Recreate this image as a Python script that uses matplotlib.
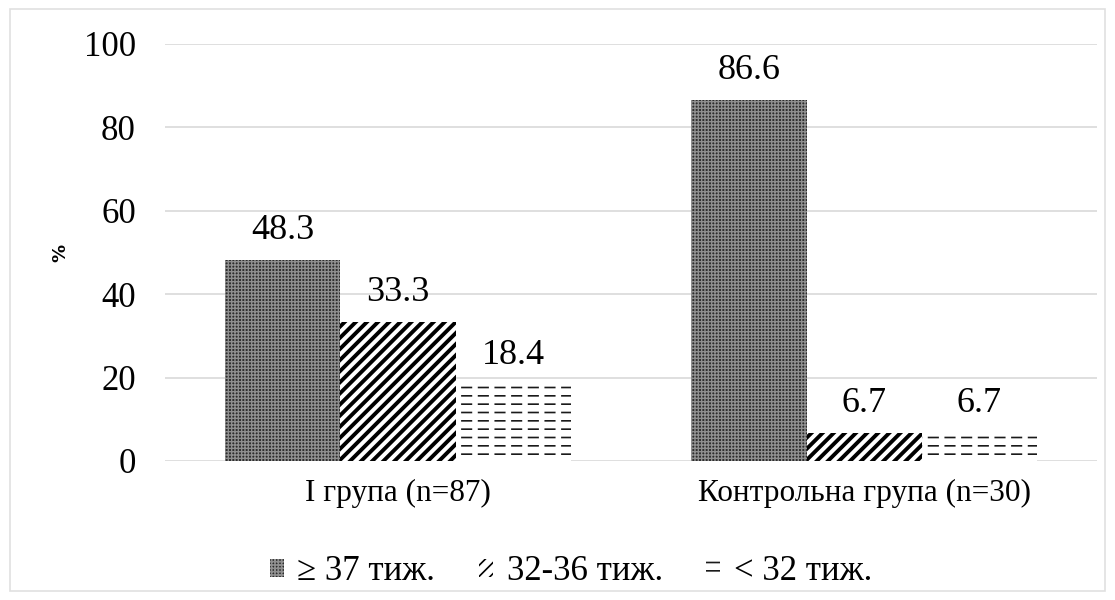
import matplotlib
matplotlib.use("Agg")
import matplotlib.pyplot as plt
import numpy as np

categories = ["I група (n=87)", "Контрольна група (n=30)"]
series_names = ["≥ 37 тиж.", "32-36 тиж.", "< 32 тиж."]
values_ge37 = [48.3, 86.6]
values_32_36 = [33.3, 6.7]
values_lt32 = [18.4, 6.7]
yticks = [0, 20, 40, 60, 80, 100]

plt.rcParams['font.family'] = ['Liberation Serif', 'DejaVu Serif']
plt.rcParams['hatch.linewidth'] = 1.2


def set_hlw(patches, lw):
    for p in patches:
        try:
            p.set_hatch_linewidth(lw)
        except Exception:
            pass


fig = plt.figure(figsize=(11.15, 6.0), dpi=100)
ax = fig.add_axes([0.148, 0.2317, 0.836, 0.695])

x = np.arange(len(categories))
w = 0.247
series = [values_ge37, values_32_36, values_lt32]
styles = [
    dict(facecolor='#2c2c2c', hatch='+++++', edgecolor='#8f8f8f'),
    dict(facecolor='white', hatch='///', edgecolor='black'),
    dict(facecolor='white', hatch='--', edgecolor='#1a1a1a'),
]
hlws = [1.0, 2.8, 1.2]
handles = []
for i, (vals, st) in enumerate(zip(series, styles)):
    bars = ax.bar(x + (i - 1) * w, vals, width=w, linewidth=0, label=series_names[i], **st)
    set_hlw(bars, hlws[i])
    handles.append(bars)
    if i == 2:
        # white vertical cuts to turn the horizontal lines into dashes
        cut = ax.bar(x + (i - 1) * w, vals, width=w, linewidth=0, fill=False,
                     hatch='|', edgecolor='white')
        set_hlw(cut, 4.0)
    for b, v in zip(bars, vals):
        ax.annotate(f"{v:.1f}", (b.get_x() + b.get_width() / 2, v),
                    xytext=(0, 21), textcoords='offset points',
                    ha='center', va='center', fontsize=26)

ax.set_xlim(-0.5, 1.5)
ax.set_ylim(0, 100)
ax.set_yticks(yticks)
ax.set_xticks(x)
ax.set_xticklabels(categories, fontsize=22.5)
ax.tick_params(axis='y', labelsize=25, length=0, pad=21)
ax.tick_params(axis='x', length=0, pad=13)
ax.yaxis.grid(True, color='#d9d9d9', linewidth=1.2)
ax.set_axisbelow(True)
for s in ax.spines.values():
    s.set_visible(False)
ax.set_ylabel('%', fontsize=13, fontweight='bold', family='DejaVu Sans', labelpad=10)

leg = fig.legend(handles=handles, labels=series_names, loc='center', bbox_to_anchor=(0.512, 0.047),
                 ncol=3, frameon=False, fontsize=25, handlelength=0.4, handleheight=0.45,
                 handletextpad=0.4, columnspacing=1.25)

fig.patches.append(plt.Rectangle((0.009, 0.015), 0.982, 0.97, transform=fig.transFigure,
                                 fill=False, edgecolor='#e0e0e0', linewidth=1.2))

fig.savefig('out.png', dpi=100)
